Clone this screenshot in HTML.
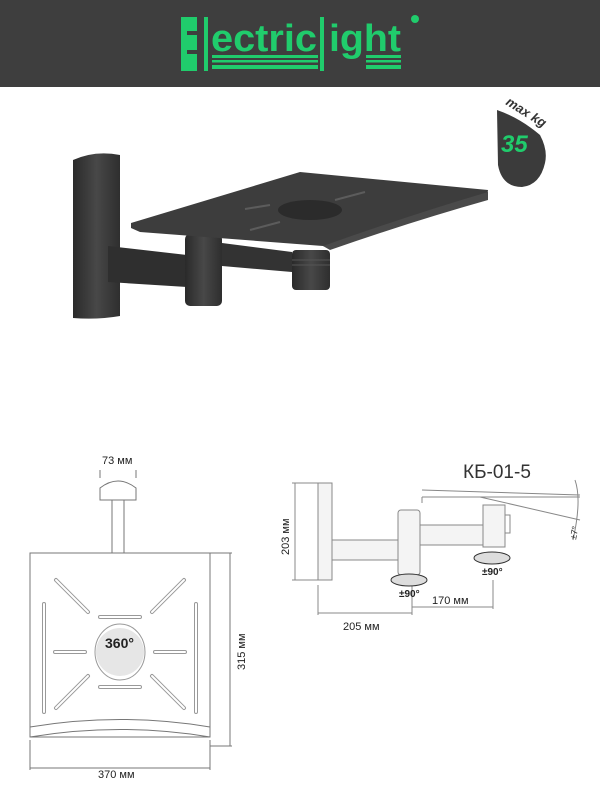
<!DOCTYPE html>
<html><head><meta charset="utf-8"><style>
html,body{margin:0;padding:0;background:#fff;}
body{width:600px;height:800px;position:relative;overflow:hidden;font-family:"Liberation Sans","Noto Sans CJK SC",sans-serif;}
.hdr{position:absolute;left:0;top:0;width:600px;height:87px;background:#3e3e3e;}
svg{position:absolute;left:0;top:0;}
</style></head><body>
<div class="hdr"></div>
<svg width="600" height="800" viewBox="0 0 600 800">
<!-- logo -->
<g fill="#20cc6c">
<rect x="181" y="17" width="16" height="54"/>
<rect x="187" y="31" width="10" height="4" fill="#3e3e3e"/>
<rect x="187" y="50" width="10" height="4" fill="#3e3e3e"/>
<rect x="204" y="17" width="4" height="54"/>
<text x="211" y="51" font-family="Liberation Sans" font-weight="bold" font-size="38" textLength="106" lengthAdjust="spacingAndGlyphs">ectric</text>
<rect x="212" y="55" width="106" height="3"/>
<rect x="212" y="60" width="106" height="2.5"/>
<rect x="212" y="65" width="106" height="4"/>
<rect x="320" y="17" width="4" height="54"/>
<text x="329" y="51" font-family="Liberation Sans" font-weight="bold" font-size="38" textLength="72" lengthAdjust="spacingAndGlyphs">ight</text>
<rect x="366" y="55" width="35" height="3"/>
<rect x="366" y="60" width="35" height="2.5"/>
<rect x="366" y="65" width="35" height="4"/>
<circle cx="415" cy="19" r="4"/>
</g>
<!-- badge -->
<path d="M497 110 Q520 118 540 135 Q548 150 545 163 Q540 185 522 187 Q502 187 498 165 Z" fill="#3b3b3b"/>
<text x="0" y="0" transform="translate(505,104) rotate(32)" font-size="13" font-weight="bold" fill="#333" font-style="italic">max kg</text>
<text x="501" y="152" font-size="24" font-weight="bold" font-style="italic" fill="#20cc6c">35</text>
<!-- product -->
<defs><linearGradient id="col" x1="0" x2="1"><stop offset="0" stop-color="#2a2a2a"/><stop offset=".5" stop-color="#484848"/><stop offset="1" stop-color="#2e2e2e"/></linearGradient></defs>
<path d="M73 160 Q95 150 120 155 L120 316 Q97 320 73 318 Z" fill="url(#col)"/>
<polygon points="108,246 187,255 187,287 108,282" fill="#2f2f2f"/>
<rect x="185" y="234" width="37" height="72" rx="5" fill="url(#col)"/>
<polygon points="222,243 292,252 292,272 222,266" fill="#333"/>
<rect x="292" y="250" width="38" height="40" rx="4" fill="url(#col)"/>
<line x1="292" y1="260" x2="330" y2="260" stroke="#555"/><line x1="292" y1="265" x2="330" y2="265" stroke="#555"/>
<polygon points="131,223 300,172 488,190 487,198 330,248 323,246 140,232 131,228" fill="#3d3d3d"/>
<path d="M323,246 Q410,215 488,192 L488,200 Q410,222 330,250 Z" fill="#4a4a4a"/>
<ellipse cx="310" cy="210" rx="32" ry="10" fill="#2b2b2b"/>
<g stroke="#5c5c5c" stroke-width="2"><line x1="250" y1="230" x2="280" y2="222"/><line x1="335" y1="200" x2="365" y2="192"/><line x1="270" y1="205" x2="245" y2="209"/></g>
<!-- left drawing -->
<g fill="none" stroke="#777" stroke-width="1">
<line x1="100" y1="470" x2="100" y2="478"/><line x1="136" y1="470" x2="136" y2="478"/>
<path d="M100 488 Q118 474 136 488 L136 500 L100 500 Z"/>
<rect x="112" y="500" width="12" height="53"/>
<rect x="30" y="553" width="180" height="184"/>
<path d="M30 727 Q120 712 210 727 M30 737 Q120 722 210 737"/>
<line x1="210" y1="553" x2="232" y2="553"/><line x1="210" y1="746" x2="232" y2="746"/><line x1="230" y1="553" x2="230" y2="746"/>
<line x1="30" y1="740" x2="30" y2="770"/><line x1="210" y1="740" x2="210" y2="770"/><line x1="30" y1="768" x2="210" y2="768"/>
<g stroke-width="4" stroke="#999" stroke-linecap="round">
<line x1="56" y1="580" x2="88" y2="612"/><line x1="184" y1="580" x2="152" y2="612"/>
<line x1="56" y1="708" x2="88" y2="676"/><line x1="184" y1="708" x2="152" y2="676"/>
<line x1="55" y1="652" x2="85" y2="652"/><line x1="155" y1="652" x2="185" y2="652"/>
<line x1="44" y1="604" x2="44" y2="712"/><line x1="196" y1="604" x2="196" y2="712"/>
<line x1="100" y1="617" x2="140" y2="617"/><line x1="100" y1="687" x2="140" y2="687"/>
</g>
<g stroke-width="2" stroke="#fff" stroke-linecap="round">
<line x1="56" y1="580" x2="88" y2="612"/><line x1="184" y1="580" x2="152" y2="612"/>
<line x1="56" y1="708" x2="88" y2="676"/><line x1="184" y1="708" x2="152" y2="676"/>
<line x1="55" y1="652" x2="85" y2="652"/><line x1="155" y1="652" x2="185" y2="652"/>
<line x1="44" y1="604" x2="44" y2="712"/><line x1="196" y1="604" x2="196" y2="712"/>
<line x1="100" y1="617" x2="140" y2="617"/><line x1="100" y1="687" x2="140" y2="687"/>
</g>
<ellipse cx="120" cy="652" rx="25" ry="28" stroke="#999"/>
</g>
<circle cx="120" cy="652" r="24" fill="#e6e6e6"/>
<g font-size="11" fill="#222">
<text x="102" y="464">73 мм</text>
<text x="98" y="778">370 мм</text>
<text transform="translate(245,670) rotate(-90)">315 мм</text>
<text x="105" y="648" font-weight="bold" font-size="14">360°</text>
</g>
<!-- right drawing -->
<g fill="none" stroke="#888" stroke-width="1">
<line x1="292" y1="483" x2="318" y2="483"/><line x1="292" y1="580" x2="318" y2="580"/><line x1="295" y1="483" x2="295" y2="580"/>
<rect x="318" y="483" width="14" height="97" fill="#f4f4f4"/>
<rect x="332" y="540" width="68" height="20" fill="#f4f4f4"/>
<rect x="398" y="510" width="22" height="65" rx="3" fill="#f4f4f4"/>
<rect x="420" y="525" width="65" height="20" fill="#f4f4f4"/>
<rect x="483" y="505" width="22" height="42" fill="#f4f4f4"/>
<rect x="505" y="515" width="5" height="18"/>
<line x1="422" y1="497" x2="580" y2="497"/><line x1="422" y1="497" x2="422" y2="503"/>
<line x1="422" y1="490" x2="580" y2="495"/><line x1="480" y1="497" x2="580" y2="520"/>
<path d="M575 480 Q582 500 573 540"/>
<line x1="318" y1="585" x2="318" y2="615"/><line x1="412" y1="585" x2="412" y2="615"/><line x1="318" y1="613" x2="412" y2="613"/>
<line x1="412" y1="607" x2="493" y2="607"/><line x1="493" y1="580" x2="493" y2="609"/>
</g>
<g fill="#ddd" stroke="#333" stroke-width="1">
<ellipse cx="409" cy="580" rx="18" ry="6"/>
<ellipse cx="492" cy="558" rx="18" ry="6"/>
</g>
<g font-size="11" fill="#222">
<text x="463" y="478" font-size="19" fill="#333">КБ-01-5</text>
<text x="399" y="597" font-weight="bold" font-size="10">±90°</text>
<text x="482" y="575" font-weight="bold" font-size="10">±90°</text>
<text x="432" y="604">170 мм</text>
<text x="343" y="630">205 мм</text>
<text transform="translate(289,555) rotate(-90)">203 мм</text>
<text transform="translate(576,540) rotate(-80)" font-size="9">±7°</text>
</g>
</svg>
</body></html>
